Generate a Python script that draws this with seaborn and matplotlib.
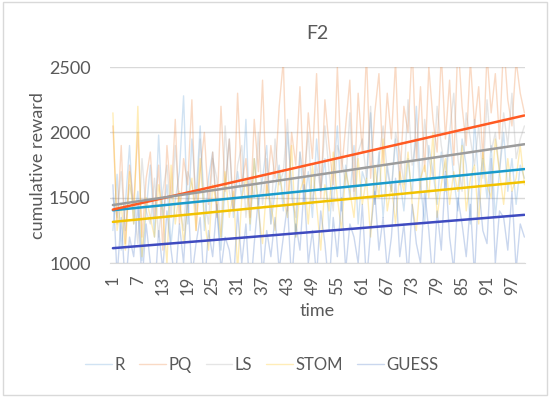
import numpy as np
import pandas as pd
import seaborn as sns
import matplotlib.pyplot as plt
from matplotlib.patches import Rectangle

# series values (clipped to 1000-2500 on display)
series_names = ["R", "PQ", "LS", "STOM", "GUESS"]
R = [1250, 1680, 1100, 1450, 1900, 1300, 1550, 1020, 1400, 1750,
     1200, 1980, 1350, 1600, 1150, 1480, 1700, 2280, 1300, 1950,
     1500, 2050, 1250, 1650, 1850, 1400, 1100, 1600, 1950, 1350,
     1700, 1500, 2100, 1250, 1800, 1450, 1650, 1900, 1300, 1550,
     1750, 1400, 2000, 1600, 1200, 1850, 1450, 1700, 1350, 1950,
     1550, 1800, 1250, 1650, 2050, 1400, 1750, 1500, 1900, 1300,
     1700, 1600, 2150, 1450, 1850, 1350, 1750, 1550, 1950, 1650,
     1400, 1800, 1500, 2200, 1600, 1300, 1900, 1700, 1450, 1850,
     1550, 2000, 1650, 1400, 1950, 1750, 1300, 2100, 1600, 1800,
     1500, 1900, 1350, 1700, 2000, 1550, 1800, 1450, 1750, 1650]
PQ = [2050, 1300, 1900, 1150, 1750, 1450, 2000, 1200, 1650, 1850,
      1350, 1750, 1100, 1900, 1500, 2100, 1300, 1800, 1600, 2250,
      1250, 1700, 2000, 1450, 1850, 1350, 2200, 1550, 1950, 1400,
      2300, 1600, 1800, 1350, 2100, 1700, 2400, 1500, 1900, 1650,
      2200, 2550, 1400, 2000, 1750, 2350, 1550, 2150, 1800, 2450,
      1500, 2250, 1900, 1600, 2500, 1700, 2050, 2400, 1550, 2300,
      1850, 2600, 1650, 2150, 2450, 1750, 2300, 1950, 2550, 1600,
      2200, 2000, 2650, 1800, 2350, 1700, 2500, 2100, 1850, 2600,
      1950, 2400, 1750, 2700, 2200, 1900, 2550, 2050, 2350, 1800,
      2600, 2150, 2450, 1950, 2700, 2250, 2050, 2550, 2300, 2150]
LS = [1500, 1350, 1700, 1250, 1600, 1450, 1150, 1800, 1400, 1300,
      1650, 1200, 1550, 1750, 1350, 1900, 1450, 1250, 1700, 1600,
      1400, 1950, 1500, 1300, 1800, 1650, 1200, 2050, 1550, 1400,
      1750, 1900, 1350, 1650, 1500, 2000, 1450, 1800, 1300, 1950,
      1600, 1700, 2100, 1500, 1350, 1850, 1650, 2000, 1450, 1750,
      1550, 2050, 1700, 1400, 1900, 1800, 1600, 2150, 1500, 1850,
      1950, 1650, 2200, 1450, 1800, 2050, 1700, 1550, 2000, 1850,
      1600, 2250, 1750, 1950, 1500, 2100, 1800, 1650, 2200, 1900,
      1700, 2000, 2300, 1800, 1550, 2150, 1950, 1750, 2050, 1650,
      2250, 1850, 2000, 1700, 2150, 1900, 2300, 1800, 1950, 2050]
STOM = [2150, 1250, 1450, 1100, 1700, 1300, 2200, 1050, 1500, 1350,
        1200, 1600, 1400, 1000, 1750, 1300, 1550, 1150, 1450, 1650,
        1250, 1800, 1350, 1100, 1600, 1450, 1200, 1700, 1350, 1550,
        950, 1500, 1650, 1300, 1800, 1400, 1150, 1600, 1450, 1250,
        1700, 1500, 1350, 1900, 1200, 1550, 1650, 1300, 1750, 1450,
        1100, 1600, 1400, 1850, 1500, 1250, 1700, 1550, 1350, 1800,
        1450, 1650, 1200, 1750, 1500, 1950, 1400, 1600, 1300, 1700,
        1550, 1850, 1450, 1250, 1650, 1750, 1500, 2000, 1350, 1600,
        1800, 1450, 1700, 1550, 1900, 1400, 1650, 1750, 1300, 1850,
        1600, 1500, 1950, 1700, 1450, 1800, 1550, 1650, 1900, 1600]
GUESS = [1600, 900, 1350, 800, 1200, 1050, 1450, 850, 1300, 1000,
         750, 1250, 950, 1400, 1100, 850, 1300, 1000, 1550, 900,
         1150, 1350, 800, 1250, 1050, 1450, 950, 1200, 1100, 850,
         1400, 1000, 1300, 750, 1150, 1500, 900, 1250, 1050, 1350,
         950, 1200, 1450, 850, 1300, 1100, 1600, 1000, 1250, 900,
         1400, 1150, 800, 1350, 1050, 1500, 950, 1300, 1200, 1000,
         1450, 850, 1250, 1550, 1100, 1350, 950, 1200, 1650, 1050,
         1300, 900, 1450, 1150, 1000, 1550, 1250, 850, 1400, 1100,
         1700, 1200, 950, 1500, 1300, 1050, 1450, 900, 1600, 1250,
         1150, 1800, 1000, 1400, 1350, 1100, 1550, 950, 1300, 1200]

# linear trendline values at t=1 and t=100
trend_start = [1405, 1410, 1445, 1316, 1115]
trend_end = [1720, 2130, 1910, 1622, 1370]

line_colors = ["#5B9BD5", "#ED7D31", "#A5A5A5", "#FFC000", "#4472C4"]
trend_colors = ["#1A9BCB", "#FF5A22", "#9C9C9C", "#F2C200", "#3F4BC0"]

time = np.arange(1, 101)
df = pd.concat([pd.DataFrame({"time": time, "reward": vals, "series": name})
                for name, vals in zip(series_names, [R, PQ, LS, STOM, GUESS])])

sns.set_style("white")
plt.rcParams["font.family"] = ["Lato", "DejaVu Sans"]

fig = plt.figure(figsize=(5.5, 3.97), dpi=100)
ax = fig.add_axes([0.2, 0.337, 0.755, 0.494])

sns.lineplot(data=df, x="time", y="reward", hue="series",
             palette=dict(zip(series_names, line_colors)),
             alpha=0.28, linewidth=1, ax=ax, legend=True)

for s, e, c in zip(trend_start, trend_end, trend_colors):
    ax.plot([1, 100], [s, e], color=c, linewidth=1.8)

ax.set_ylim(1000, 2500)
ax.set_xlim(0.3, 100.2)
ax.set_yticks([1000, 1500, 2000, 2500])
ax.set_xticks(np.arange(1, 101, 6))
ax.tick_params(axis="x", labelrotation=90, labelsize=12, colors="#595959", length=0, pad=9)
ax.tick_params(axis="y", labelsize=13, colors="#595959", length=0, pad=14)
ax.grid(axis="y", color="#D9D9D9", linewidth=1)
for side in ["left", "right", "top"]:
    ax.spines[side].set_visible(False)
ax.spines["bottom"].set_color("#D9D9D9")

ax.set_title("F2", fontsize=14, color="#595959", pad=20)
ax.set_xlabel("time", fontsize=13, color="#595959", labelpad=6)
ax.set_ylabel("cumulative reward", fontsize=13, color="#595959", labelpad=2)

handles, labels = ax.get_legend_handles_labels()
ax.legend(handles[:5], labels[:5], loc="center", bbox_to_anchor=(0.366, -0.52),
          ncol=5, frameon=False, fontsize=12, labelcolor="#595959",
          handlelength=1.6, handletextpad=0.15, columnspacing=0.85)

fig.patches.append(Rectangle((0.006, 0.006), 0.988, 0.988, transform=fig.transFigure,
                             fill=False, edgecolor="#D9D9D9", linewidth=1))

fig.savefig("out.png", dpi=100)
